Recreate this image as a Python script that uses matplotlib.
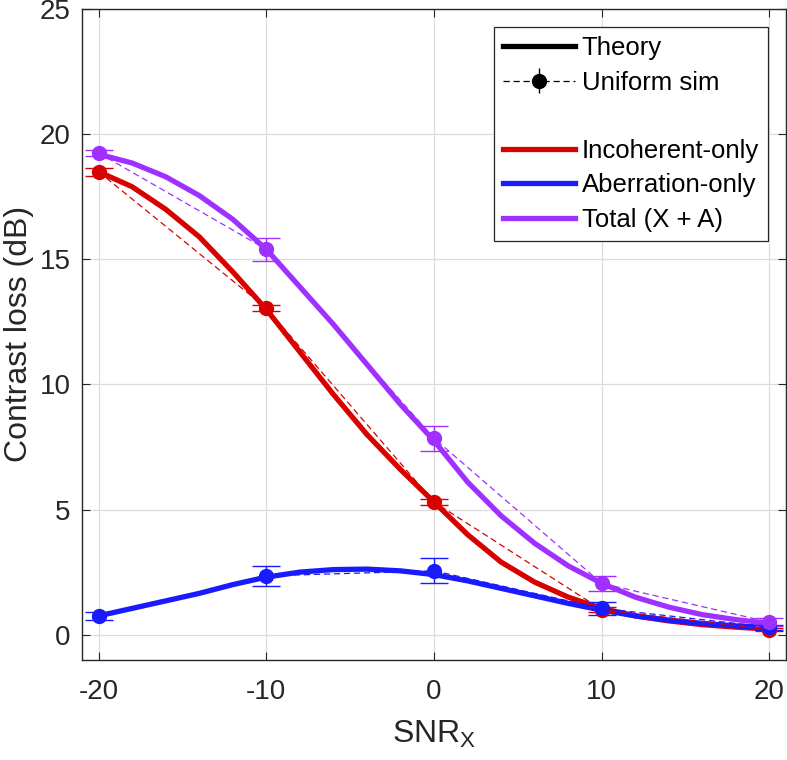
import numpy as np
import matplotlib.pyplot as plt
from matplotlib.lines import Line2D

# simulation points
snr_sim = [-20, -10, 0, 10, 20]
incoh_sim = [18.5, 13.05, 5.3, 1.0, 0.2]
incoh_err = [0.15, 0.12, 0.12, 0.1, 0.05]
aber_sim = [0.75, 2.35, 2.55, 1.05, 0.3]
aber_err = [0.15, 0.4, 0.5, 0.25, 0.1]
total_sim = [19.25, 15.4, 7.85, 2.05, 0.5]
total_err = [0.12, 0.45, 0.5, 0.3, 0.15]

# theory curves
snr_th = [-20, -18, -16, -14, -12, -10, -8, -6, -4, -2, 0, 2, 4, 6, 8, 10, 12, 14, 16, 18, 20]
incoh_th = [18.5, 17.9, 17.0, 15.9, 14.5, 13.0, 11.3, 9.6, 8.0, 6.6, 5.3,
            4.0, 2.9, 2.1, 1.5, 1.05, 0.75, 0.55, 0.4, 0.3, 0.22]
aber_th = [0.75, 1.05, 1.35, 1.65, 2.0, 2.3, 2.5, 2.6, 2.62, 2.55, 2.4,
           2.15, 1.85, 1.55, 1.25, 0.98, 0.75, 0.58, 0.45, 0.35, 0.28]
total_th = [19.2, 18.85, 18.3, 17.55, 16.6, 15.4, 13.9, 12.4, 10.8, 9.2, 7.75,
            6.1, 4.75, 3.65, 2.75, 2.05, 1.5, 1.1, 0.8, 0.6, 0.45]

RED = '#d90000'
BLUE = '#1a1aff'
PURPLE = '#a030ff'
INK = '#262626'

plt.rcParams['font.family'] = ['Liberation Sans', 'DejaVu Sans']
plt.rcParams['axes.unicode_minus'] = False

fig = plt.figure(figsize=(7.87, 7.6), dpi=100)
ax = fig.add_axes([0.104, 0.132, 0.895, 0.856])

series = [(incoh_th, incoh_sim, incoh_err, RED),
          (aber_th, aber_sim, aber_err, BLUE),
          (total_th, total_sim, total_err, PURPLE)]
for th, sim, err, c in series:
    ax.plot(snr_th, th, color=c, lw=3.8, zorder=3)
    eb = ax.errorbar(snr_sim, sim, yerr=err, color=c, ls='--', lw=0.9, marker='o',
                     ms=10, capsize=10, elinewidth=1.0, capthick=1.0, zorder=4)
    eb[0].set_dashes((5, 3))

ax.set_xlim(-21, 21)
ax.set_ylim(-1, 25)
ax.set_xticks([-20, -10, 0, 10, 20])
ax.set_yticks([0, 5, 10, 15, 20, 25])
ax.grid(True, color='#dcdcdc', lw=0.9)
ax.set_axisbelow(True)
ax.tick_params(direction='in', length=6, width=0.8, labelsize=20,
               colors=INK, top=True, right=True)
ax.tick_params(axis='x', pad=14)
ax.tick_params(axis='y', pad=8)
for s in ax.spines.values():
    s.set_color(INK)
    s.set_linewidth(1.0)
ax.set_xlabel('SNR$_\\mathregular{X}$', fontsize=23, color=INK, labelpad=10)
ax.set_ylabel('Contrast loss (dB)', fontsize=23, color=INK, labelpad=4)

# legend
k_th = Line2D([], [], color='black', lw=3.8)
k_sim = ax.errorbar([], [], yerr=[], color='black', ls='--', lw=0.9, marker='o',
                    ms=10, capsize=7, elinewidth=1.0)
k_sim[0].set_dashes((5, 3))
blank = Line2D([], [], color='none')
h_r = Line2D([], [], color=RED, lw=3.8)
h_b = Line2D([], [], color=BLUE, lw=3.8)
h_p = Line2D([], [], color=PURPLE, lw=3.8)
leg = ax.legend([k_th, k_sim, blank, h_r, h_b, h_p],
                ['Theory', 'Uniform sim', ' ', 'Incoherent-only', 'Aberration-only', 'Total (X + A)'],
                loc='upper right', bbox_to_anchor=(0.974, 0.972), fontsize=18.5,
                frameon=True, fancybox=False, edgecolor=INK, framealpha=1,
                handlelength=2.8, handletextpad=0.25, labelspacing=0.4,
                borderpad=0.35, borderaxespad=0)
leg.get_frame().set_linewidth(0.9)

fig.savefig('out.png', dpi=100)
